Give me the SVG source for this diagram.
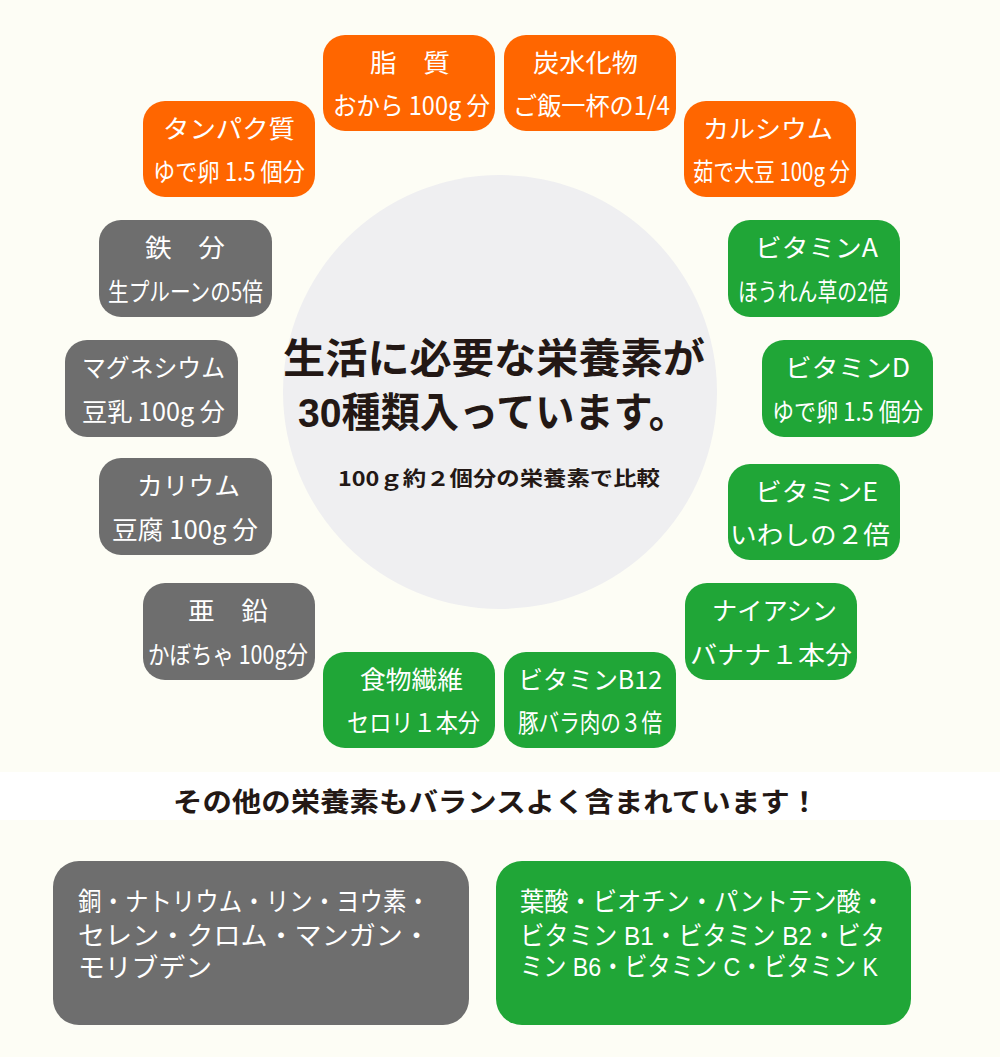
<svg xmlns="http://www.w3.org/2000/svg" width="1000" height="1057" viewBox="0 0 1000 1057">
<style>
.o{fill:#FF6600}.g{fill:#6E6E6E}.v{fill:#20A637}
.t{font-family:"Noto Sans CJK JP","Noto Sans",sans-serif;font-size:25px;fill:#fff;text-anchor:middle}
.b{font-family:"Liberation Sans","Noto Sans CJK JP",sans-serif;font-size:26px;fill:#fff}
.h{font-family:"Noto Sans CJK JP","Noto Sans",sans-serif;font-weight:bold;fill:#231815;text-anchor:middle}
.hl{font-family:"Liberation Sans","Noto Sans CJK JP",sans-serif}
</style>
<rect width="1000" height="1057" fill="#FDFDF5"/>
<rect x="0" y="772" width="1000" height="48" fill="#FFFFFF"/>
<g id="center">
<circle cx="500" cy="392" r="217" fill="#EFEFF1"/>
<text class="h hl" x="494" y="373" font-size="41" textLength="422" lengthAdjust="spacingAndGlyphs">生活に必要な栄養素が</text>
<text class="h hl" x="493" y="427" font-size="41" textLength="390" lengthAdjust="spacingAndGlyphs">30種類入っています。</text>
<text class="h" x="499" y="486" font-size="20" textLength="322" lengthAdjust="spacingAndGlyphs">100ｇ約２個分の栄養素で比較</text>
</g>
<g id="n1"><rect class="o" x="323" y="35" width="172" height="96" rx="22"/><text class="t" x="410" y="72" textLength="80" lengthAdjust="spacingAndGlyphs">脂　質</text><text class="t" x="411.5" y="115" textLength="157" lengthAdjust="spacingAndGlyphs">おから 100g 分</text></g>
<g id="n2"><rect class="o" x="504" y="35" width="172" height="96" rx="22"/><text class="t" x="585.5" y="72" textLength="105" lengthAdjust="spacingAndGlyphs">炭水化物</text><text class="t" x="591.5" y="115" textLength="157" lengthAdjust="spacingAndGlyphs">ご飯一杯の1/4</text></g>
<g id="n3"><rect class="o" x="143" y="101" width="172" height="96" rx="22"/><text class="t" x="229" y="138" textLength="132" lengthAdjust="spacingAndGlyphs">タンパク質</text><text class="t" x="229" y="181" textLength="152" lengthAdjust="spacingAndGlyphs">ゆで卵 1.5 個分</text></g>
<g id="n4"><rect class="o" x="684" y="101" width="172" height="96" rx="22"/><text class="t" x="768" y="138" textLength="130" lengthAdjust="spacingAndGlyphs">カルシウム</text><text class="t" x="771.5" y="181" textLength="157" lengthAdjust="spacingAndGlyphs">茹で大豆 100g 分</text></g>
<g id="n5"><rect class="g" x="99" y="220" width="173" height="97" rx="22"/><text class="t" x="185" y="257" textLength="80" lengthAdjust="spacingAndGlyphs">鉄　分</text><text class="t" x="185.5" y="301" textLength="155" lengthAdjust="spacingAndGlyphs">生プルーンの5倍</text></g>
<g id="n6"><rect class="v" x="728" y="220" width="172" height="97" rx="22"/><text class="t" x="816.5" y="257" textLength="123" lengthAdjust="spacingAndGlyphs">ビタミンA</text><text class="t" x="813" y="301" textLength="150" lengthAdjust="spacingAndGlyphs">ほうれん草の2倍</text></g>
<g id="n7"><rect class="g" x="65" y="340" width="173" height="97" rx="22"/><text class="t" x="153.5" y="377" textLength="143" lengthAdjust="spacingAndGlyphs">マグネシウム</text><text class="t" x="153.5" y="421" textLength="143" lengthAdjust="spacingAndGlyphs">豆乳 100g 分</text></g>
<g id="n8"><rect class="v" x="762" y="340" width="171" height="97" rx="22"/><text class="t" x="847.5" y="377" textLength="125" lengthAdjust="spacingAndGlyphs">ビタミンD</text><text class="t" x="847.5" y="421" textLength="151" lengthAdjust="spacingAndGlyphs">ゆで卵 1.5 個分</text></g>
<g id="n9"><rect class="g" x="99" y="458" width="173" height="97" rx="22"/><text class="t" x="188.5" y="495" textLength="103" lengthAdjust="spacingAndGlyphs">カリウム</text><text class="t" x="185" y="539" textLength="146" lengthAdjust="spacingAndGlyphs">豆腐 100g 分</text></g>
<g id="n10"><rect class="v" x="728" y="464" width="172" height="96" rx="22"/><text class="t" x="816.5" y="501" textLength="123" lengthAdjust="spacingAndGlyphs">ビタミンE</text><text class="t" x="810" y="544" textLength="160" lengthAdjust="spacingAndGlyphs">いわしの２倍</text></g>
<g id="n11"><rect class="g" x="143" y="583" width="172" height="97" rx="22"/><text class="t" x="228" y="620" textLength="80" lengthAdjust="spacingAndGlyphs">亜　鉛</text><text class="t" x="228" y="664" textLength="160" lengthAdjust="spacingAndGlyphs">かぼちゃ 100g分</text></g>
<g id="n12"><rect class="v" x="685" y="583" width="172" height="97" rx="22"/><text class="t" x="774.5" y="620" textLength="125" lengthAdjust="spacingAndGlyphs">ナイアシン</text><text class="t" x="771" y="664" textLength="162" lengthAdjust="spacingAndGlyphs">バナナ１本分</text></g>
<g id="n13"><rect class="v" x="323" y="652" width="172" height="96" rx="22"/><text class="t" x="411.5" y="689" textLength="103" lengthAdjust="spacingAndGlyphs">食物繊維</text><text class="t" x="413.5" y="732" textLength="133" lengthAdjust="spacingAndGlyphs">セロリ１本分</text></g>
<g id="n14"><rect class="v" x="504" y="652" width="172" height="96" rx="22"/><text class="t" x="590" y="689" textLength="144" lengthAdjust="spacingAndGlyphs">ビタミンB12</text><text class="t" x="590" y="732" textLength="144" lengthAdjust="spacingAndGlyphs">豚バラ肉の３倍</text></g>
<g id="others-title"><text class="h" x="496" y="812" font-size="27" textLength="646" lengthAdjust="spacingAndGlyphs">その他の栄養素もバランスよく含まれています！</text></g>
<g id="minerals"><rect class="g" x="53" y="861" width="416" height="164" rx="26"/>
<text class="b" x="78" y="911" textLength="352" lengthAdjust="spacingAndGlyphs">銅・ナトリウム・リン・ヨウ素・</text>
<text class="b" x="78" y="945" textLength="352" lengthAdjust="spacingAndGlyphs">セレン・クロム・マンガン・</text>
<text class="b" x="78" y="977" textLength="134" lengthAdjust="spacingAndGlyphs">モリブデン</text></g>
<g id="vitamins"><rect class="v" x="496" y="861" width="415" height="164" rx="26"/>
<text class="b" x="520" y="911" textLength="365" lengthAdjust="spacingAndGlyphs">葉酸・ビオチン・パントテン酸・</text>
<text class="b" x="520" y="945" textLength="365" lengthAdjust="spacingAndGlyphs">ビタミン B1・ビタミン B2・ビタ</text>
<text class="b" x="520" y="976" textLength="358" lengthAdjust="spacingAndGlyphs">ミン B6・ビタミン C・ビタミン K</text></g>
<g id="connectors"></g>
</svg>
